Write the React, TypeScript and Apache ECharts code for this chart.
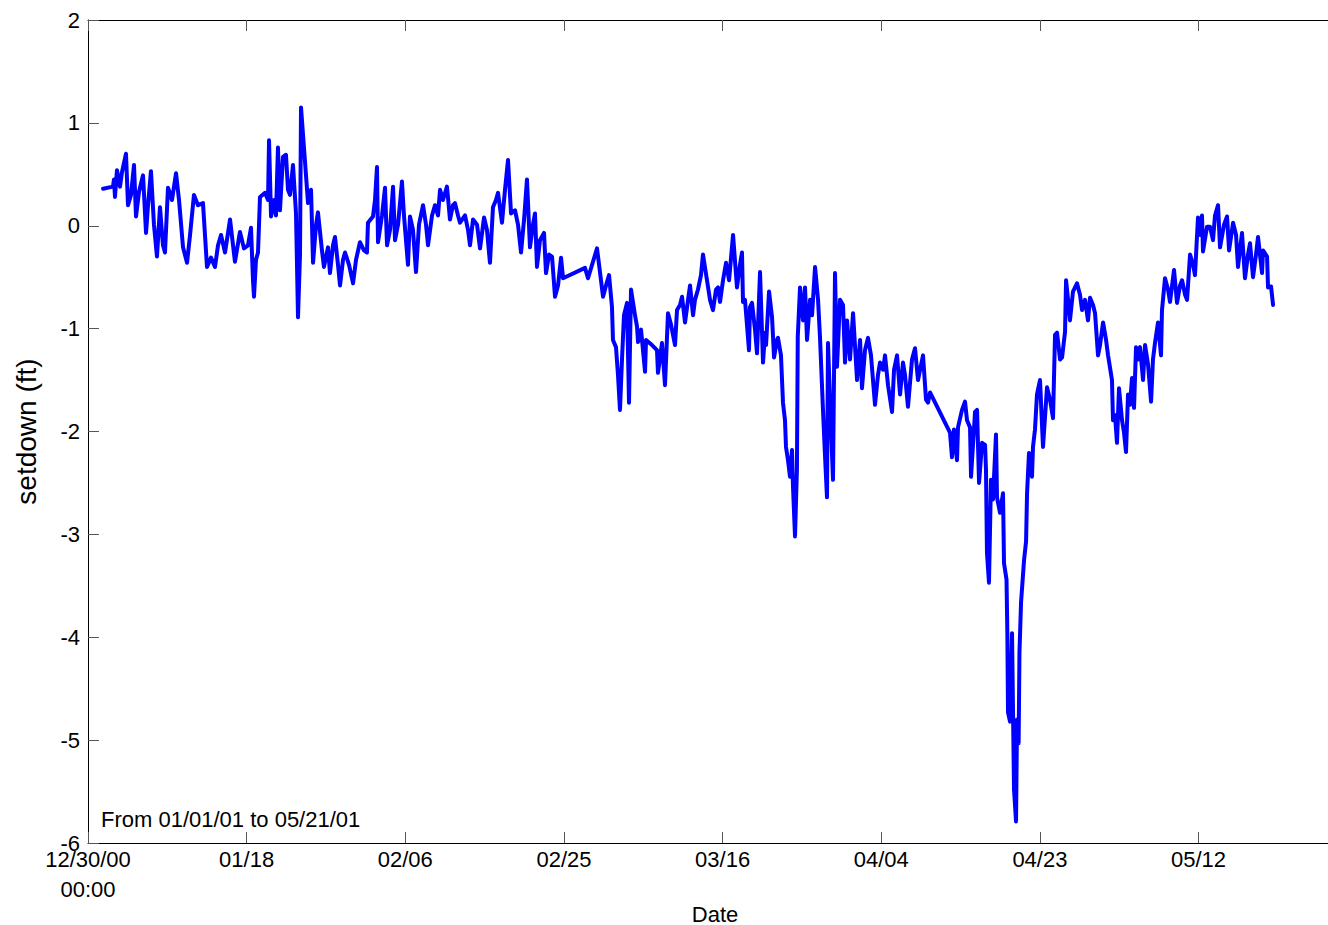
import React, { useEffect, useRef } from "react";
import * as echarts from "echarts";

// Days elapsed since 12/30/00 00:00
const dayOffset: number[] = [
  1.80, 2.99, 3.11, 3.23, 3.47, 3.83, 4.07, 4.55, 4.79, 5.15, 5.51, 5.75, 6.11, 6.59, 6.95, 7.19, 7.54, 7.90, 8.26, 8.62,
  8.98, 9.22, 9.58, 10.06, 10.54, 10.90, 11.38, 11.86, 12.22, 12.69, 13.17, 13.77, 14.25, 14.73, 15.21, 15.57, 15.93, 16.41, 17.01, 17.60,
  18.20, 18.68, 19.16, 19.52, 19.76, 19.88, 20.12, 20.36, 20.60, 21.20, 21.56, 21.68, 21.92, 22.28, 22.51, 22.75, 22.99, 23.35, 23.71, 23.95,
  24.19, 24.55, 24.91, 25.15, 25.39, 25.51, 26.35, 26.71, 26.95, 27.31, 27.54, 28.02, 28.26, 28.74, 28.98, 29.34, 29.58, 29.94, 30.18, 30.54,
  30.78, 31.26, 31.74, 32.10, 32.57, 33.05, 33.41, 33.53, 34.13, 34.37, 34.61, 34.73, 35.21, 35.57, 35.81, 36.17, 36.53, 36.77, 37.13, 37.60,
  37.84, 38.32, 38.56, 38.92, 39.28, 39.64, 40.12, 40.48, 40.72, 41.20, 41.56, 41.92, 42.16, 42.51, 42.99, 43.35, 43.71, 43.95, 44.31, 44.55,
  45.15, 45.51, 45.75, 46.11, 46.59, 46.95, 47.43, 47.78, 48.14, 48.50, 48.86, 49.10, 49.58, 49.94, 50.30, 50.66, 51.14, 51.50, 51.86, 52.22,
  52.57, 52.93, 53.29, 53.53, 53.77, 54.13, 54.61, 54.85, 55.21, 55.57, 55.93, 56.29, 56.65, 56.89, 59.52, 59.88, 60.96, 61.68, 62.04, 62.40,
  62.75, 62.87, 63.23, 63.47, 63.71, 63.95, 64.19, 64.55, 64.79, 65.03, 65.51, 65.75, 65.87, 66.23, 66.71, 66.83, 67.54, 68.14, 68.26, 68.74,
  69.10, 69.46, 69.82, 70.30, 70.54, 70.90, 71.14, 71.50, 71.86, 72.10, 72.46, 72.69, 73.05, 73.41, 73.65, 74.13, 74.49, 74.85, 75.21, 75.45,
  75.69, 76.05, 76.41, 76.77, 77.25, 77.72, 78.08, 78.32, 78.44, 78.68, 79.16, 79.28, 79.52, 79.88, 80.12, 80.48, 80.84, 81.08, 81.20, 81.56,
  81.92, 82.16, 82.51, 82.63, 82.99, 83.23, 83.47, 83.59, 83.83, 84.07, 84.31, 84.43, 84.67, 84.90, 85.00, 85.27, 85.63, 85.87, 86.11, 86.47,
  86.71, 87.07, 87.43, 87.66, 88.02, 88.26, 88.50, 88.62, 88.98, 89.22, 89.46, 89.70, 90.06, 90.42, 90.66, 90.90, 91.26, 91.62, 92.10, 92.46,
  92.69, 93.05, 93.41, 93.77, 94.25, 94.61, 94.85, 95.21, 95.45, 95.81, 96.29, 96.53, 96.89, 97.25, 97.60, 97.84, 98.20, 98.68, 99.04, 99.40,
  100.00, 100.36, 100.60, 100.84, 103.23, 103.47, 103.71, 104.07, 104.19, 104.67, 105.03, 105.27, 105.63, 105.75, 106.23, 106.47, 106.71, 107.07, 107.43, 107.54,
  107.66, 107.90, 108.14, 108.38, 108.74, 108.86, 109.22, 109.58, 109.70, 110.00, 110.10, 110.18, 110.42, 110.66, 110.78, 110.90, 111.14, 111.26, 111.45, 111.55,
  111.74, 112.10, 112.34, 112.46, 112.69, 113.05, 113.17, 113.41, 113.65, 114.01, 114.37, 114.85, 115.21, 115.57, 115.81, 116.05, 116.41, 116.65, 117.01, 117.13,
  117.37, 117.60, 117.96, 118.44, 118.80, 119.04, 119.40, 119.76, 120.00, 120.36, 120.60, 120.96, 121.20, 121.56, 121.92, 122.16, 122.63, 122.75, 122.99, 123.23,
  123.47, 123.83, 124.07, 124.31, 124.55, 124.79, 125.03, 125.27, 125.51, 125.75, 125.99, 126.35, 126.59, 126.95, 127.31, 127.54, 127.78, 128.14, 128.50, 128.62,
  128.98, 129.34, 129.58, 130.06, 130.42, 130.78, 131.02, 131.38, 131.62, 131.98, 132.34, 132.57, 132.93, 133.17, 133.41, 133.53, 134.01, 134.37, 134.73, 134.97,
  135.33, 135.57, 136.05, 136.41, 136.65, 137.13, 137.49, 137.72, 138.20, 138.56, 138.92, 139.16, 139.52, 139.88, 140.12, 140.60, 140.72, 141.20, 141.32, 141.68,
  141.92,
];

// Setdown in feet at each time
const setdown: number[] = [
  0.36, 0.38, 0.45, 0.28, 0.54, 0.38, 0.52, 0.70, 0.20, 0.30, 0.59, 0.09, 0.33, 0.49, -0.07, 0.20, 0.53, 0.01, -0.30, 0.18,
  -0.19, -0.26, 0.37, 0.25, 0.51, 0.25, -0.21, -0.36, -0.09, 0.30, 0.20, 0.22, -0.40, -0.31, -0.40, -0.19, -0.09, -0.26, 0.06, -0.35,
  -0.06, -0.22, -0.19, -0.02, -0.53, -0.69, -0.33, -0.26, 0.28, 0.32, 0.25, 0.83, 0.09, 0.25, 0.10, 0.76, 0.15, 0.67, 0.69, 0.35,
  0.30, 0.59, 0.12, -0.89, -0.28, 1.15, 0.22, 0.35, -0.36, 0.01, 0.13, -0.24, -0.40, -0.21, -0.46, -0.19, -0.11, -0.38, -0.58, -0.33,
  -0.26, -0.38, -0.56, -0.33, -0.16, -0.24, -0.26, 0.03, 0.09, 0.25, 0.57, -0.16, 0.10, 0.37, -0.19, -0.04, 0.38, -0.14, 0.01, 0.43,
  0.10, -0.38, 0.09, -0.04, -0.45, 0.01, 0.20, 0.01, -0.19, 0.10, 0.20, 0.10, 0.35, 0.25, 0.38, 0.06, 0.20, 0.22, 0.10, 0.03,
  0.10, -0.04, -0.19, 0.06, 0.01, -0.22, 0.08, -0.04, -0.36, 0.18, 0.25, 0.32, 0.03, 0.35, 0.64, 0.12, 0.15, 0.01, -0.26, 0.06,
  0.45, -0.21, 0.01, 0.12, -0.40, -0.14, -0.07, -0.46, -0.28, -0.30, -0.69, -0.58, -0.31, -0.51, -0.41, -0.51, -0.22, -0.69, -0.58, -0.48,
  -0.79, -1.11, -1.18, -1.45, -1.79, -1.30, -0.87, -0.75, -1.72, -0.62, -0.87, -0.98, -1.13, -1.01, -1.42, -1.11, -1.16, -1.21, -1.43, -1.14,
  -1.55, -0.85, -0.96, -1.16, -0.82, -0.77, -0.69, -0.94, -0.72, -0.58, -0.87, -0.72, -0.62, -0.48, -0.28, -0.53, -0.72, -0.82, -0.62, -0.60,
  -0.74, -0.53, -0.36, -0.53, -0.09, -0.60, -0.38, -0.26, -0.74, -0.72, -1.21, -0.79, -0.75, -1.01, -1.24, -0.45, -1.33, -1.04, -1.16, -0.64,
  -0.89, -1.28, -1.11, -1.09, -1.26, -1.72, -1.89, -2.15, -2.28, -2.44, -2.18, -2.54, -3.02, -2.37, -1.08, -0.60, -0.92, -0.60, -1.11, -0.72,
  -0.87, -0.40, -0.72, -1.08, -1.79, -2.23, -2.64, -1.14, -1.96, -2.47, -0.46, -1.37, -0.72, -0.77, -1.33, -0.92, -1.30, -0.85, -1.50, -1.11,
  -1.58, -1.21, -1.09, -1.26, -1.74, -1.45, -1.33, -1.40, -1.26, -1.55, -1.81, -1.40, -1.26, -1.64, -1.33, -1.45, -1.76, -1.30, -1.19, -1.50,
  -1.26, -1.69, -1.72, -1.62, -2.01, -2.25, -1.98, -2.28, -1.96, -1.79, -1.71, -1.89, -1.96, -2.44, -1.81, -1.79, -2.50, -2.11, -2.13, -2.37,
  -3.18, -3.47, -2.47, -2.66, -2.03, -2.64, -2.79, -2.60, -3.28, -3.44, -3.96, -4.73, -4.82, -3.96, -4.73, -5.48, -5.79, -4.80, -5.03, -4.15,
  -3.66, -3.25, -3.07, -2.60, -2.21, -2.44, -2.15, -1.98, -1.64, -1.50, -2.15, -1.57, -1.69, -1.87, -1.06, -1.04, -1.30, -1.28, -1.03, -0.53,
  -0.72, -0.92, -0.64, -0.56, -0.67, -0.82, -0.72, -0.92, -0.70, -0.77, -0.85, -1.26, -1.16, -0.94, -1.11, -1.26, -1.50, -1.89, -1.84, -2.11,
  -1.58, -1.89, -2.01, -2.20, -1.64, -1.74, -1.48, -1.77, -1.18, -1.30, -1.18, -1.50, -1.16, -1.35, -1.71, -1.30, -1.14, -0.94, -1.26, -0.82,
  -0.51, -0.62, -0.74, -0.43, -0.75, -0.58, -0.53, -0.67, -0.72, -0.28, -0.38, -0.48, 0.08, -0.09, 0.10, -0.25, -0.01, -0.01, -0.14, 0.10,
  0.20, -0.21, 0.01, 0.09, -0.24, 0.03, -0.09, -0.40, -0.07, -0.51, -0.28, -0.17, -0.50, -0.28, -0.11, -0.46, -0.24, -0.30, -0.60, -0.59,
  -0.77,
];

// Axis settings: ticks every 19 days from 12/30/00, setdown from -6 to 2 ft
const xMin = 0;
const xMax = 148.5;
const xStep = 19;
const yMin = -6;
const yMax = 2;
const yStep = 1;
const originUTC = Date.UTC(2000, 11, 30);

const FONT = "'Liberation Sans', Arial, Helvetica, sans-serif";

function pad2(n: number): string {
  return n < 10 ? "0" + n : String(n);
}

function dayLabel(d: number): string {
  if (Math.abs(d / xStep - Math.round(d / xStep)) > 1e-6) return "";
  const t = new Date(originUTC + d * 86400000);
  const md = pad2(t.getUTCMonth() + 1) + "/" + pad2(t.getUTCDate());
  if (d === 0) return md + "/" + pad2(t.getUTCFullYear() % 100) + "\n00:00";
  return md;
}

export default function App() {
  const ref = useRef<HTMLDivElement>(null);

  useEffect(() => {
    if (!ref.current) return;
    const chart = echarts.init(ref.current, undefined, { renderer: "svg" });
    const data = dayOffset.map((d, i) => [d, setdown[i]]);
    const axisLine = { show: true, onZero: false, lineStyle: { color: "#000", width: 1 } };
    const tick = { show: true, inside: true, length: 11, lineStyle: { color: "#555", width: 1 } };

    chart.setOption({
      animation: false,
      backgroundColor: "#fff",
      grid: {
        left: 88,
        top: 20,
        width: 1240,
        height: 823,
        containLabel: false,
        outerBoundsMode: "none",
      },
      xAxis: [
        {
          type: "value",
          position: "bottom",
          min: xMin,
          max: xMax,
          interval: xStep,
          axisLine,
          axisTick: tick,
          splitLine: { show: false },
          axisLabel: {
            formatter: dayLabel,
            color: "#000",
            fontFamily: FONT,
            fontSize: 22,
            lineHeight: 30,
            margin: 1,
            showMaxLabel: false,
          },
        },
        {
          type: "value",
          position: "top",
          min: xMin,
          max: xMax,
          interval: xStep,
          axisLine,
          axisTick: tick,
          axisLabel: { show: false },
          splitLine: { show: false },
        },
      ],
      yAxis: {
        type: "value",
        min: yMin,
        max: yMax,
        interval: yStep,
        axisLine,
        axisTick: tick,
        splitLine: { show: false },
        axisLabel: { color: "#000", fontFamily: FONT, fontSize: 22, margin: 8 },
        name: "setdown (ft)",
        nameLocation: "middle",
        nameGap: 48,
        nameTextStyle: { color: "#000", fontFamily: FONT, fontSize: 28 },
      },
      graphic: [
        {
          type: "text",
          left: 101,
          top: 808,
          style: {
            text: "From 01/01/01 to 05/21/01",
            fill: "#000",
            font: "22px " + FONT,
          },
        },
        {
          type: "text",
          x: 715,
          y: 914,
          style: {
            text: "Date",
            fill: "#000",
            font: "22px " + FONT,
            align: "center",
            verticalAlign: "middle",
          },
        },
      ],
      series: [
        {
          type: "line",
          data,
          showSymbol: false,
          lineStyle: { color: "#0000ff", width: 4, cap: "round", join: "round" },
          itemStyle: { color: "#0000ff" },
        },
      ],
    });

    return () => chart.dispose();
  }, []);

  return (
    <div
      ref={ref}
      style={{ position: "fixed", left: 0, top: 0, width: 1328, height: 925, background: "#fff" }}
    />
  );
}
